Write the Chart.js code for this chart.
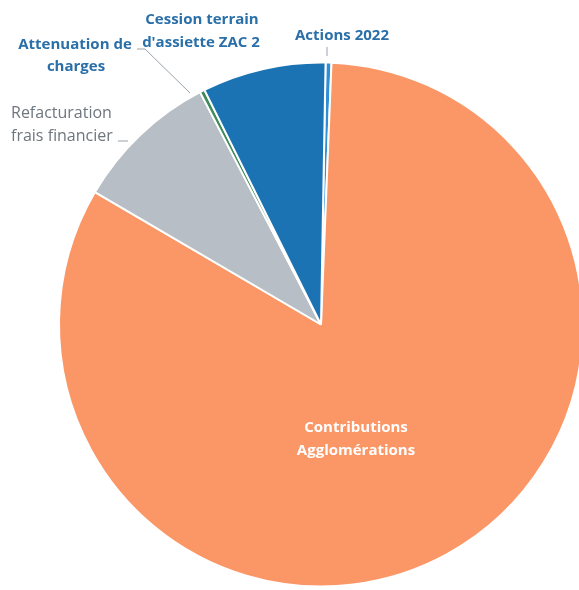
<!DOCTYPE html>
<html><head><meta charset="utf-8">
<script src="https://cdn.jsdelivr.net/npm/chart.js@4.4.1/dist/chart.umd.min.js"></script>
<style>
html,body{margin:0;padding:0;background:#fff;overflow:hidden;width:579px;height:590px;}
#wrap{position:absolute;left:0;top:0;width:600px;height:600px;}
</style></head>
<body>
<div id="wrap"><canvas id="c" width="600" height="600"></canvas></div>
<script>
const categories = ["Actions 2022", "Contributions Agglomérations", "Refacturation frais financier", "Attenuation de charges", "Cession terrain d'assiette ZAC 2"];
const values = [0.36, 82.6, 8.9, 0.3, 7.6];
const colors = ["#2f8fd6", "#fb9767", "#b8bec5", "#3f8a5a", "#1b73b3"];

const labelPlugin = {
  id: 'labels',
  afterDraw(chart) {
    const ctx = chart.ctx;
    const arc = chart.getDatasetMeta(0).data[0];
    const cx = arc.x, cy = arc.y;
    ctx.save();
    ctx.textBaseline = 'middle';
    ctx.textAlign = 'center';
    ctx.strokeStyle = '#9aa3ab';
    ctx.lineWidth = 1;
    ctx.beginPath();
    ctx.moveTo(327, 47); ctx.lineTo(327, 56);
    ctx.moveTo(137, 49); ctx.lineTo(145, 49); ctx.lineTo(190, 93);
    ctx.moveTo(118, 141); ctx.lineTo(128, 141);
    ctx.stroke();

    ctx.fillStyle = '#2a6fa8';
    ctx.font = 'bold 15px "Open Sans"';
    ctx.fillText("Cession terrain", 202, 20);
    ctx.fillText("d'assiette ZAC 2", 201, 43);
    ctx.fillText("Attenuation de", 75, 45);
    ctx.fillText("charges", 76, 67);
    ctx.fillText("Actions 2022", 342, 36);
    ctx.fillStyle = '#6e767e';
    ctx.font = '16px "Open Sans"';
    ctx.textAlign = 'left';
    ctx.fillText("Refacturation", 11, 113);
    ctx.fillText("frais financier", 11, 136);
    ctx.textAlign = 'center';
    ctx.fillStyle = '#ffffff';
    ctx.font = 'bold 15px "Open Sans"';
    ctx.fillText("Contributions", cx + 35, cy + 103);
    ctx.fillText("Agglomérations", cx + 35, cy + 126);
    ctx.restore();
  }
};

new Chart(document.getElementById('c'), {
  type: 'pie',
  data: {
    labels: categories,
    datasets: [{
      data: values,
      backgroundColor: colors,
      borderColor: '#ffffff',
      borderWidth: 2
    }]
  },
  options: {
    responsive: false,
    animation: false,
    rotation: 1,
    layout: { padding: { left: 58, top: 61, right: 16, bottom: 12 } },
    plugins: { legend: { display: false }, tooltip: { enabled: false } }
  },
  plugins: [labelPlugin]
});
</script>
</body></html>
